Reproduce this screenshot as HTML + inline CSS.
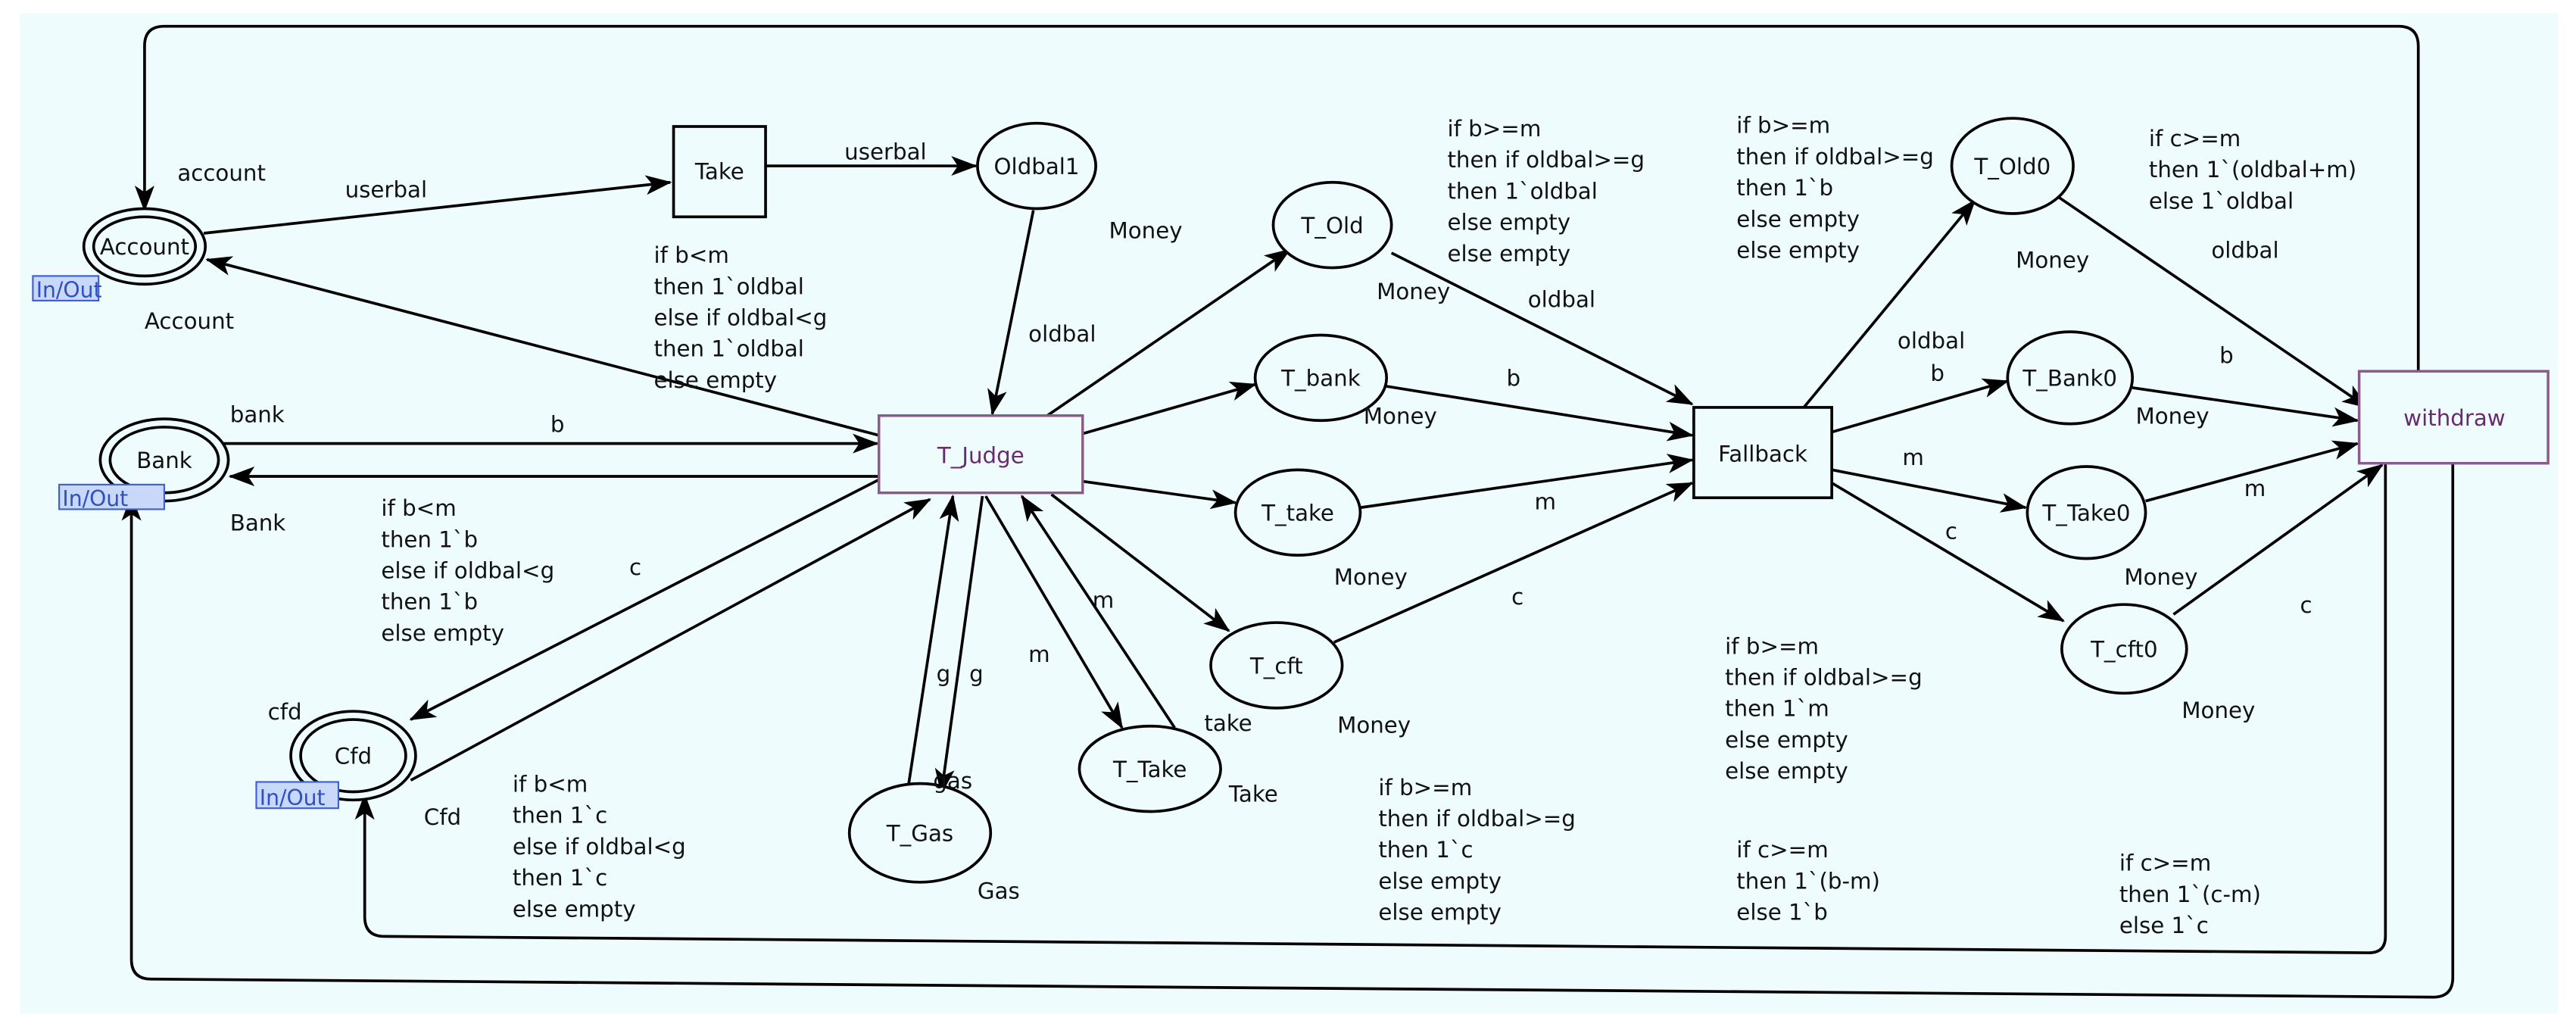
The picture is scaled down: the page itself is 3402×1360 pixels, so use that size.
<!DOCTYPE html>
<html><head><meta charset="utf-8"><style>
html,body{margin:0;padding:0;background:#fff;}
svg{display:block;}
text{font-family:"DejaVu Sans","Liberation Sans",sans-serif;font-size:13.5px;fill:#111;}
.p{fill:#6a2a70;}
.io{font-size:13px;fill:#3050c0;}
</style></head><body>
<svg width="3402" height="1360" viewBox="0 0 1568 627" preserveAspectRatio="none" xmlns="http://www.w3.org/2000/svg">
<defs>
<marker id="a" viewBox="0 0 16 12" refX="15" refY="6" markerWidth="16" markerHeight="12" markerUnits="userSpaceOnUse" orient="auto">
<path d="M0,0 L16,6 L0,12 L4,6 z" fill="#000"/></marker>
</defs>
<rect x="12" y="8" width="1545" height="609" fill="#effcfd"/>
<g stroke="#000" stroke-width="1.7" fill="none">
<!-- loops -->
<path d="M1472,226 L1472,28 Q1472,16 1460,16 L100,16 Q88,16 88,28 L88,128" marker-end="url(#a)"/>
<path d="M1493,282 L1493,595 Q1493,607 1481,607 L92,596 Q80,596 80,584 L80,302" marker-end="url(#a)"/>
<path d="M1452,282 L1452,570 Q1452,580 1442,580 L234,570 Q222,570 222,558 L222,484" marker-end="url(#a)"/>
<!-- left side -->
<line x1="124" y1="142" x2="408" y2="111" marker-end="url(#a)"/>
<line x1="466" y1="101" x2="594" y2="101" marker-end="url(#a)"/>
<line x1="629" y1="128" x2="604" y2="252" marker-end="url(#a)"/>
<line x1="535" y1="265" x2="126" y2="158" marker-end="url(#a)"/>
<line x1="136" y1="270" x2="534" y2="270" marker-end="url(#a)"/>
<line x1="535" y1="290" x2="140" y2="290" marker-end="url(#a)"/>
<line x1="535" y1="292" x2="250" y2="438" marker-end="url(#a)"/>
<line x1="250" y1="475" x2="566" y2="304" marker-end="url(#a)"/>
<line x1="553" y1="478" x2="580" y2="302" marker-end="url(#a)"/>
<line x1="598" y1="302" x2="573" y2="483" marker-end="url(#a)"/>
<line x1="600" y1="302" x2="683" y2="443" marker-end="url(#a)"/>
<line x1="715" y1="443" x2="622" y2="302" marker-end="url(#a)"/>
<line x1="636" y1="254" x2="785" y2="152" marker-end="url(#a)"/>
<line x1="659" y1="264" x2="764" y2="234" marker-end="url(#a)"/>
<line x1="659" y1="293" x2="752" y2="306" marker-end="url(#a)"/>
<line x1="640" y1="301" x2="748" y2="384" marker-end="url(#a)"/>
<!-- to fallback -->
<line x1="847" y1="154" x2="1030" y2="246" marker-end="url(#a)"/>
<line x1="843" y1="235" x2="1030" y2="265" marker-end="url(#a)"/>
<line x1="828" y1="309" x2="1030" y2="280" marker-end="url(#a)"/>
<line x1="812" y1="391" x2="1030" y2="294" marker-end="url(#a)"/>
<!-- from fallback -->
<line x1="1098" y1="248" x2="1202" y2="122" marker-end="url(#a)"/>
<line x1="1115" y1="263" x2="1222" y2="232" marker-end="url(#a)"/>
<line x1="1115" y1="286" x2="1233" y2="309" marker-end="url(#a)"/>
<line x1="1115" y1="294" x2="1256" y2="378" marker-end="url(#a)"/>
<!-- to withdraw -->
<line x1="1253" y1="120" x2="1441" y2="248" marker-end="url(#a)"/>
<line x1="1298" y1="236" x2="1435" y2="256" marker-end="url(#a)"/>
<line x1="1306" y1="305" x2="1435" y2="270" marker-end="url(#a)"/>
<line x1="1323" y1="374" x2="1450" y2="283" marker-end="url(#a)"/>
</g>
<!-- nodes -->
<g stroke="#000" stroke-width="1.7" fill="#effcfd">
<ellipse cx="88" cy="150" rx="37" ry="23"/><ellipse cx="88" cy="150" rx="31" ry="18"/>
<ellipse cx="100" cy="280" rx="39" ry="25"/><ellipse cx="100" cy="280" rx="33" ry="20"/>
<ellipse cx="215" cy="460" rx="38" ry="27"/><ellipse cx="215" cy="460" rx="32" ry="22"/>
<rect x="410" y="77" width="56" height="55"/>
<ellipse cx="631" cy="101" rx="36" ry="26"/>
<ellipse cx="811" cy="137" rx="36" ry="26"/>
<ellipse cx="804" cy="230" rx="40" ry="26"/>
<ellipse cx="790" cy="312" rx="38" ry="26"/>
<ellipse cx="777" cy="405" rx="40" ry="26"/>
<ellipse cx="560" cy="507" rx="43" ry="30"/>
<ellipse cx="700" cy="468" rx="43" ry="26"/>
<rect x="1031" y="248" width="84" height="55"/>
<ellipse cx="1225" cy="101" rx="37" ry="29"/>
<ellipse cx="1260" cy="230" rx="38" ry="28"/>
<ellipse cx="1270" cy="312" rx="36" ry="28"/>
<ellipse cx="1293" cy="395" rx="38" ry="27"/>
</g>
<rect x="535" y="253" width="124" height="47" fill="#effcfd" stroke="#8b5a8b" stroke-width="1.6"/>
<rect x="1436" y="226" width="115" height="56" fill="#effcfd" stroke="#8b5a8b" stroke-width="1.6"/>
<g fill="#c8d8f8" stroke="#4060d0" stroke-width="1">
<rect x="20" y="168" width="40" height="15"/>
<rect x="36" y="295" width="64" height="15"/>
<rect x="156" y="476" width="50" height="16"/>
</g>
<text class="io" x="22" y="181">In/Out</text>
<text class="io" x="38" y="308">In/Out</text>
<text class="io" x="158" y="490">In/Out</text>
<g text-anchor="middle">
<text x="88" y="155">Account</text>
<text x="100" y="285">Bank</text>
<text x="215" y="465">Cfd</text>
<text x="438" y="109">Take</text>
<text x="631" y="106">Oldbal1</text>
<text class="p" x="597" y="282">T_Judge</text>
<text class="p" x="1494" y="259">withdraw</text>
<text x="811" y="142">T_Old</text>
<text x="804" y="235">T_bank</text>
<text x="790" y="317">T_take</text>
<text x="777" y="410">T_cft</text>
<text x="560" y="512">T_Gas</text>
<text x="700" y="473">T_Take</text>
<text x="1073" y="281">Fallback</text>
<text x="1225" y="106">T_Old0</text>
<text x="1260" y="235">T_Bank0</text>
<text x="1270" y="317">T_Take0</text>
<text x="1293" y="400">T_cft0</text>
</g>
<g>
<text x="108" y="110">account</text>
<text x="88" y="200">Account</text>
<text x="210" y="120">userbal</text>
<text x="514" y="97">userbal</text>
<text x="675" y="145">Money</text>
<text x="626" y="208">oldbal</text>
<text x="140" y="257">bank</text>
<text x="140" y="323">Bank</text>
<text x="335" y="263">b</text>
<text x="383" y="350">c</text>
<text x="163" y="438">cfd</text>
<text x="258" y="502">Cfd</text>
<text x="568" y="480">gas</text>
<text x="595" y="547">Gas</text>
<text x="570" y="415">g</text>
<text x="590" y="415">g</text>
<text x="626" y="403">m</text>
<text x="665" y="370">m</text>
<text x="748" y="488">Take</text>
<text x="733" y="445">take</text>
<text x="838" y="182">Money</text>
<text x="830" y="258">Money</text>
<text x="812" y="356">Money</text>
<text x="814" y="446">Money</text>
<text x="930" y="187">oldbal</text>
<text x="917" y="235">b</text>
<text x="934" y="310">m</text>
<text x="920" y="368">c</text>
<text x="1155" y="212">oldbal</text>
<text x="1175" y="232">b</text>
<text x="1158" y="283">m</text>
<text x="1184" y="328">c</text>
<text x="1227" y="163">Money</text>
<text x="1300" y="258">Money</text>
<text x="1293" y="356">Money</text>
<text x="1328" y="437">Money</text>
<text x="1346" y="157">oldbal</text>
<text x="1351" y="221">b</text>
<text x="1366" y="302">m</text>
<text x="1400" y="373">c</text>
</g>
<g>
<text x="398" y="160"><tspan x="398">if b&lt;m</tspan><tspan x="398" dy="19">then 1`oldbal</tspan><tspan x="398" dy="19">else if oldbal&lt;g</tspan><tspan x="398" dy="19">then 1`oldbal</tspan><tspan x="398" dy="19">else empty</tspan></text>
<text x="232" y="314"><tspan x="232">if b&lt;m</tspan><tspan x="232" dy="19">then 1`b</tspan><tspan x="232" dy="19">else if oldbal&lt;g</tspan><tspan x="232" dy="19">then 1`b</tspan><tspan x="232" dy="19">else empty</tspan></text>
<text x="312" y="482"><tspan x="312">if b&lt;m</tspan><tspan x="312" dy="19">then 1`c</tspan><tspan x="312" dy="19">else if oldbal&lt;g</tspan><tspan x="312" dy="19">then 1`c</tspan><tspan x="312" dy="19">else empty</tspan></text>
<text x="881" y="83"><tspan x="881">if b&gt;=m</tspan><tspan x="881" dy="19">then if oldbal&gt;=g</tspan><tspan x="881" dy="19">then 1`oldbal</tspan><tspan x="881" dy="19">else empty</tspan><tspan x="881" dy="19">else empty</tspan></text>
<text x="1057" y="81"><tspan x="1057">if b&gt;=m</tspan><tspan x="1057" dy="19">then if oldbal&gt;=g</tspan><tspan x="1057" dy="19">then 1`b</tspan><tspan x="1057" dy="19">else empty</tspan><tspan x="1057" dy="19">else empty</tspan></text>
<text x="1308" y="89"><tspan x="1308">if c&gt;=m</tspan><tspan x="1308" dy="19">then 1`(oldbal+m)</tspan><tspan x="1308" dy="19">else 1`oldbal</tspan></text>
<text x="1050" y="398"><tspan x="1050">if b&gt;=m</tspan><tspan x="1050" dy="19">then if oldbal&gt;=g</tspan><tspan x="1050" dy="19">then 1`m</tspan><tspan x="1050" dy="19">else empty</tspan><tspan x="1050" dy="19">else empty</tspan></text>
<text x="839" y="484"><tspan x="839">if b&gt;=m</tspan><tspan x="839" dy="19">then if oldbal&gt;=g</tspan><tspan x="839" dy="19">then 1`c</tspan><tspan x="839" dy="19">else empty</tspan><tspan x="839" dy="19">else empty</tspan></text>
<text x="1057" y="522"><tspan x="1057">if c&gt;=m</tspan><tspan x="1057" dy="19">then 1`(b-m)</tspan><tspan x="1057" dy="19">else 1`b</tspan></text>
<text x="1290" y="530"><tspan x="1290">if c&gt;=m</tspan><tspan x="1290" dy="19">then 1`(c-m)</tspan><tspan x="1290" dy="19">else 1`c</tspan></text>
</g>
</svg>
</body></html>
